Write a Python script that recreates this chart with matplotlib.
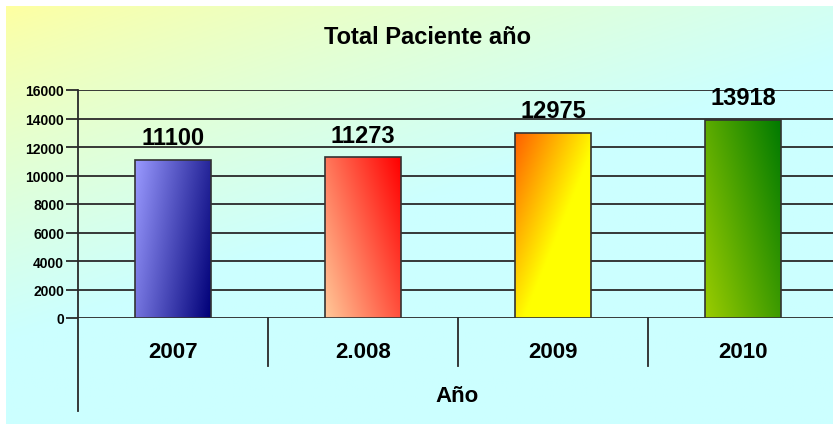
import numpy as np
import matplotlib
matplotlib.use('Agg')
import matplotlib.pyplot as plt
from matplotlib.colors import to_rgb

# data
years = ['2007', '2.008', '2009', '2010']
pacientes = [11100, 11273, 12975, 13918]
yticks = [0, 2000, 4000, 6000, 8000, 10000, 12000, 14000, 16000]

# gradient colours per bar (start, end)
bar_grads = [('#9a9aff', '#000078'), ('#ffc898', '#ff0000'),
             ('#ff6000', '#ffff00'), ('#9acc00', '#007a00')]

plt.rcParams['font.family'] = ['Liberation Sans', 'DejaVu Sans']

W, H = 833, 427
fig = plt.figure(figsize=(W / 100, H / 100), dpi=100)
fig.patch.set_facecolor('white')


def blend(c1, c2, t):
    c1 = np.array(to_rgb(c1))
    c2 = np.array(to_rgb(c2))
    return c1[None, None, :] * (1 - t[..., None]) + c2[None, None, :] * t[..., None]


# background gradient (yellow top-left -> cyan bottom-right)
bg = fig.add_axes([6 / W, 2 / H, 827 / W, 418 / H], zorder=-5)
u, v = np.meshgrid(np.linspace(0, 1, 300), np.linspace(1, 0, 200))
t = np.clip((u + (1 - v) * 1.5) / 1.2, 0, 1) ** 0.8
bg.imshow(blend('#ffffa0', '#ccffff', t), aspect='auto', extent=[0, 1, 0, 1])
bg.axis('off')

# main axes, right edge runs past the figure like the original
x0, x1 = 78, 838
ybot, ytop = 319, 91
ax = fig.add_axes([x0 / W, 1 - ybot / H, (x1 - x0) / W, (ybot - ytop) / H])
ax.set_facecolor('none')

x = np.arange(len(years))
bars = ax.bar(x, pacientes, width=0.395, edgecolor='#333333', linewidth=1.2,
              zorder=3, color='none')

ax.set_xlim(-0.5, len(years) - 0.5)
ax.set_ylim(0, 16000)

# gradient fill clipped to each bar
dirs = [(0.75, -0.25), (0.6, 0.4), (0.5, -0.5), (0.6, 0.4)]
for b, (c1, c2), (du, dv) in zip(bars, bar_grads, dirs):
    bx, by = b.get_x(), b.get_y()
    bw, bh = b.get_width(), b.get_height()
    gu, gv = np.meshgrid(np.linspace(0, 1, 60), np.linspace(1, 0, 120))
    tt = du * gu + dv * gv
    tt = (tt - tt.min()) / (tt.max() - tt.min())
    if c2 == '#ffff00':
        tt = np.clip(tt * 1.8, 0, 1)
    im = ax.imshow(blend(c1, c2, tt), aspect='auto', extent=[bx, bx + bw, by, by + bh],
                   zorder=2, interpolation='bilinear')
    im.set_clip_path(b)

for xi, val in zip(x, pacientes):
    ax.annotate(str(val), (xi, val), xytext=(0, 16), textcoords='offset points',
                ha='center', va='center', fontsize=17, fontweight='bold', zorder=5)

# grid and axes
ax.set_yticks(yticks)
ax.set_yticklabels([str(y) for y in yticks], fontsize=10, fontweight='bold')
ax.yaxis.grid(True, color='#2a2a2a', linewidth=1.3, zorder=1)
ax.set_axisbelow(True)
ax.tick_params(axis='y', direction='out', length=9, width=1.3, color='#2a2a2a', pad=1)
ax.set_xticks([])
for s in ['top', 'right', 'bottom']:
    ax.spines[s].set_visible(False)
ax.spines['left'].set_visible(False)

# left axis line runs down past the labels, category separators below the axis
ax.plot([-0.5, -0.5], [1, -0.408], transform=ax.get_xaxis_transform(), color='#2a2a2a',
        linewidth=1.3, clip_on=False)
for k in range(1, len(years) + 1):
    ax.plot([k - 0.5, k - 0.5], [0, -0.21], transform=ax.get_xaxis_transform(),
            color='#2a2a2a', linewidth=1.3, clip_on=False)

for xi, lab in zip(x, years):
    ax.annotate(lab, (xi, 0), xytext=(0, -24), textcoords='offset points',
                ha='center', va='center', fontsize=16, fontweight='bold',
                annotation_clip=False)

fig.text(457 / W, 1 - 397 / H, 'Año', ha='center', va='center', fontsize=16, fontweight='bold')
fig.text(428 / W, 1 - 37 / H, 'Total Paciente año', ha='center', va='center',
         fontsize=17, fontweight='bold')

fig.savefig('out.png', dpi=100)
